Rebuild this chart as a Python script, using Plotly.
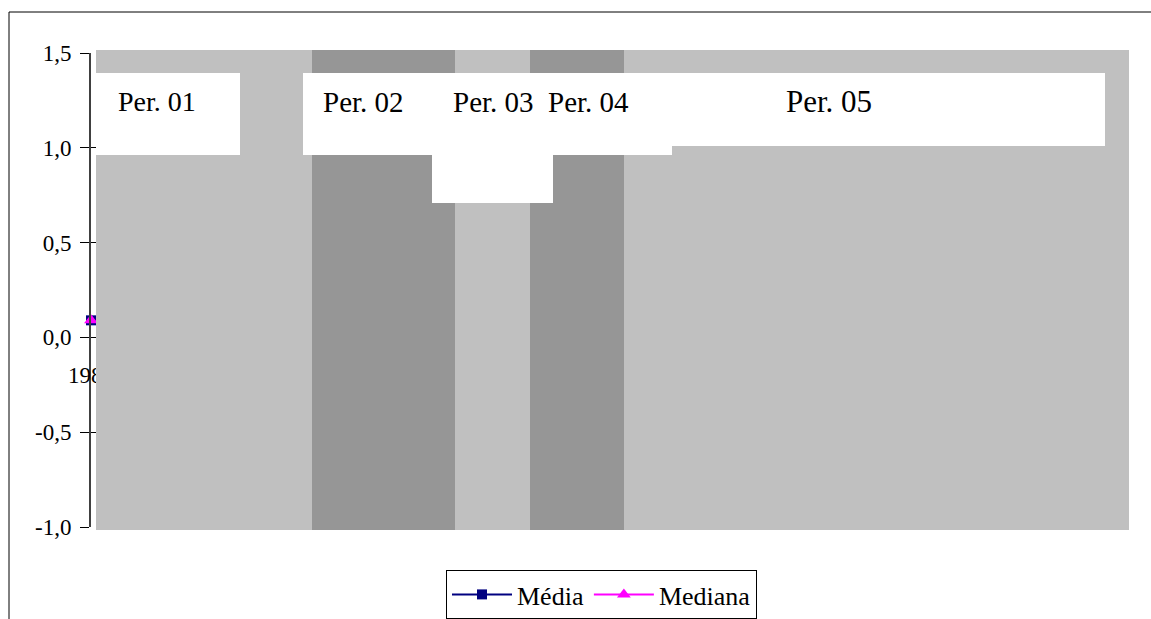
import plotly.graph_objects as go

# ---- data -------------------------------------------------------------
anos = ["1980"]
media = [0.09]
mediana = [0.09]
periodos = ["Per. 01", "Per. 02", "Per. 03", "Per. 04", "Per. 05"]
y_ticks = [-1.0, -0.5, 0.0, 0.5, 1.0, 1.5]
y_ticktext = ["-1,0", "-0,5", "0,0", "0,5", "1,0", "1,5"]

# ---- page geometry (pixels) ------------------------------------------
W_PAGE, H_PAGE = 1151, 619
L, R, T, B = 91, 1129, 53, 527
PW, PH = R - L, B - T


def fx(px):
    return (px - L) / PW


def fy(py):
    return (B - py) / PH


SERIF = "Liberation Serif"
LIGHT = "#c0c0c0"
DARK = "#969696"

fig = go.Figure()

fig.add_trace(go.Scatter(
    x=anos, y=media, name="Média", mode="lines+markers",
    line=dict(color="#000080", width=2),
    marker=dict(symbol="square", size=10, color="#000080"),
    cliponaxis=False,
))
fig.add_trace(go.Scatter(
    x=anos, y=mediana, name="Mediana", mode="lines+markers",
    line=dict(color="#ff00ff", width=2),
    marker=dict(symbol="triangle-up", size=12, color="#ff00ff"),
    cliponaxis=False, yaxis="y2",
))

shapes = []

# shaded period bands (drawn over the plot, as in the original sheet)
band_edges = [96, 312, 455, 530, 624, 1129]
band_colors = [LIGHT, DARK, LIGHT, DARK, LIGHT]
for i, col in enumerate(band_colors):
    shapes.append(dict(
        type="rect", xref="paper", yref="paper", layer="above",
        x0=fx(band_edges[i]), x1=fx(band_edges[i + 1]),
        y0=fy(530), y1=fy(50),
        fillcolor=col, line=dict(width=0),
    ))

# white label boxes
label_boxes = [
    (96, 240, 73, 155),
    (303, 672, 73, 155),
    (432, 553, 73, 203),
    (672, 1105, 73, 146),
]
for x0, x1, y0, y1 in label_boxes:
    shapes.append(dict(
        type="rect", xref="paper", yref="paper", layer="above",
        x0=fx(x0), x1=fx(x1), y0=fy(y1), y1=fy(y0),
        fillcolor="white", line=dict(width=0),
    ))

# chart-area frame (left and top edges)
shapes.append(dict(type="line", xref="paper", yref="paper", layer="above",
                   x0=fx(9), x1=fx(9), y0=fy(12), y1=fy(H_PAGE + 5),
                   line=dict(color="#000", width=1)))
shapes.append(dict(type="line", xref="paper", yref="paper", layer="above",
                   x0=fx(9), x1=fx(W_PAGE + 5), y0=fy(12), y1=fy(12),
                   line=dict(color="#000", width=1)))

# period labels
label_pos = [(116, 102, 28), (321, 102, 29), (451, 102, 29),
             (546, 102, 29), (784, 101, 31)]
annotations = []
for txt, (px, py, fs) in zip(periodos, label_pos):
    annotations.append(dict(
        text=txt, xref="paper", yref="paper", x=fx(px), y=fy(py),
        xanchor="left", yanchor="middle", showarrow=False,
        font=dict(family=SERIF, size=fs, color="#000"),
    ))

fig.update_layout(
    width=W_PAGE, height=H_PAGE,
    margin=dict(l=L, r=W_PAGE - R, t=T, b=H_PAGE - B, autoexpand=False),
    paper_bgcolor="white", plot_bgcolor="white",
    font=dict(family=SERIF, size=23, color="#000"),
    shapes=shapes, annotations=annotations,
    xaxis=dict(
        type="category", range=[0, 10], anchor="free", position=fy(337),
        showline=False, showgrid=False, zeroline=False,
        ticks="", ticklabelstandoff=22,
        tickfont=dict(family=SERIF, size=23, color="#000"),
    ),
    yaxis=dict(
        range=[-1.0, 1.5], tickvals=y_ticks, ticktext=y_ticktext,
        showgrid=False, zeroline=False,
        showline=True, linecolor="#404040", linewidth=2,
        ticks="outside", ticklen=9, tickcolor="#000", tickwidth=1,
        ticklabelstandoff=4,
        tickfont=dict(family=SERIF, size=23, color="#000"),
    ),
    yaxis2=dict(
        range=[-1.0, 1.5], tickvals=y_ticks, overlaying="y", side="left",
        showgrid=False, zeroline=False, showline=False,
        ticks="inside", ticklen=5, tickcolor="#000", tickwidth=1,
        showticklabels=False,
    ),
    showlegend=True,
    legend=dict(
        orientation="h", x=fx(601.5), xanchor="center",
        y=fy(570), yanchor="top",
        bgcolor="white", bordercolor="#000", borderwidth=1,
        font=dict(family=SERIF, size=26, color="#000"),
        itemwidth=60,
    ),
)

fig.write_html("out.html")
